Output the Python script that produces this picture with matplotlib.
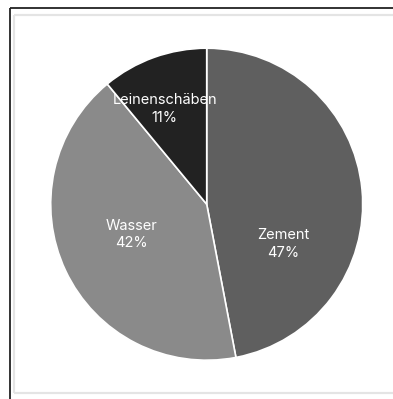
import matplotlib
matplotlib.use("Agg")
import matplotlib.pyplot as plt
from matplotlib.lines import Line2D

labels = ["Zement", "Wasser", "Leinenschäben"]
shares = [47, 42, 11]
colors = ["#5f5f5f", "#8a8a8a", "#222222"]
# label centres in units of the pie radius
label_pos = [(0.49, -0.255), (-0.48, -0.195), (-0.27, 0.61)]

W, H = 393, 399
fig = plt.figure(figsize=(W / 100, H / 100), dpi=100)
plt.rcParams["font.family"] = ["Inter", "DejaVu Sans"]

# frame lines (pixels, top-left origin)
def px_line(x0, y0, x1, y1, color, lw):
    fig.add_artist(Line2D([x0 / W, x1 / W], [1 - y0 / H, 1 - y1 / H],
                          transform=fig.transFigure, color=color, lw=lw,
                          solid_capstyle="butt"))

px_line(14.5, 15, W + 2, 15, "#e4e4e4", 1.6)
px_line(14.5, 15, 14.5, 393, "#e4e4e4", 1.6)
px_line(14.5, 393, W + 2, 393, "#e4e4e4", 1.6)
px_line(10, 8, W + 2, 8, "#222222", 1.3)
px_line(10, 8, 10, H + 2, "#222222", 1.3)

cx, cy, r = 206.7, 204.2, 156
ax = fig.add_axes([(cx - r) / W, 1 - (cy + r) / H, 2 * r / W, 2 * r / H])
ax.pie(shares, colors=colors, startangle=90, counterclock=False, radius=1,
       wedgeprops=dict(edgecolor="white", linewidth=1.2))
ax.set_xlim(-1, 1)
ax.set_ylim(-1, 1)
ax.axis("off")

for name, share, (x, y) in zip(labels, shares, label_pos):
    ax.text(x, y, f"{name}\n{share}%", ha="center", va="center",
            color="white", fontsize=10.5, linespacing=1.3)

fig.savefig("out.png", dpi=100)
